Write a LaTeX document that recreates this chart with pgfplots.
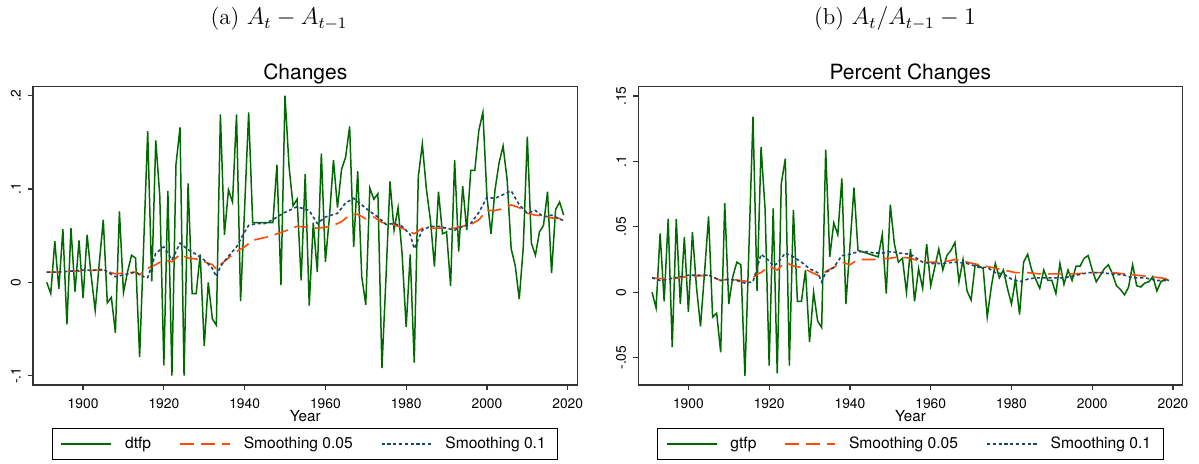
\documentclass[border=0pt]{standalone}
\usepackage{fontspec}
\usepackage{pgfplots}
\usepackage{pgfplotstable}
\pgfplotsset{compat=1.18}
\newfontfamily\heros{TeX Gyre Heros}

\definecolor{tfpgreen}{RGB}{0,105,0}
\definecolor{smorange}{RGB}{255,75,10}
\definecolor{smnavy}{RGB}{26,71,111}

% annual TFP changes: level difference and growth rate
\pgfplotstableread{
year dtfp gtfp
1891 0.000 0.000
1892 -0.012 -0.012
1893 0.044 0.045
1894 -0.007 -0.007
1895 0.057 0.056
1896 -0.045 -0.042
1897 0.058 0.056
1898 -0.010 -0.009
1899 0.045 0.042
1900 -0.017 -0.015
1901 0.051 0.046
1902 0.007 0.004
1903 -0.030 -0.026
1904 0.020 0.015
1905 0.067 0.058
1906 -0.022 -0.019
1907 -0.016 -0.016
1908 -0.054 -0.046
1909 0.076 0.068
1910 -0.011 -0.009
1911 0.011 0.012
1912 0.029 0.023
1913 0.026 0.021
1914 -0.080 -0.064
1915 0.040 0.035
1916 0.162 0.134
1917 0.001 0.001
1918 0.152 0.111
1919 0.092 0.063
1920 -0.089 -0.056
1921 0.098 0.064
1922 -0.100 -0.062
1923 0.126 0.083
1924 0.166 0.102
1925 -0.100 -0.056
1926 0.106 0.063
1927 -0.012 -0.007
1928 -0.012 -0.007
1929 0.030 0.017
1930 -0.068 -0.038
1931 0.000 0.000
1932 -0.039 -0.022
1933 -0.046 -0.027
1934 0.180 0.109
1935 0.051 0.027
1936 0.099 0.053
1937 0.086 0.044
1938 0.180 0.087
1939 -0.020 -0.009
1940 0.080 0.035
1941 0.182 0.080
1942 0.064 0.032
1943 0.064 0.031
1944 0.064 0.030
1945 0.064 0.029
1946 0.064 0.028
1947 0.064 0.027
1948 0.126 0.044
1949 -0.003 -0.001
1950 0.200 0.067
1951 0.124 0.037
1952 0.082 0.023
1953 0.089 0.026
1954 0.002 0.000
1955 0.116 0.033
1956 -0.025 -0.007
1957 0.064 0.018
1958 0.011 0.003
1959 0.138 0.037
1960 0.022 0.005
1961 0.070 0.019
1962 0.131 0.033
1963 0.080 0.017
1964 0.121 0.028
1965 0.134 0.032
1966 0.167 0.038
1967 0.038 0.008
1968 0.119 0.025
1969 0.006 0.001
1970 -0.024 -0.006
1971 0.101 0.021
1972 0.089 0.020
1973 0.095 0.018
1974 -0.092 -0.019
1975 0.005 0.004
1976 0.108 0.022
1977 0.056 0.011
1978 0.080 0.017
1979 0.030 0.003
1980 -0.048 -0.009
1981 0.030 0.010
1982 -0.086 -0.017
1983 0.113 0.023
1984 0.148 0.029
1985 0.100 0.017
1986 0.067 0.010
1987 0.017 0.003
1988 0.097 0.017
1989 0.052 0.009
1990 0.054 0.009
1991 -0.004 -0.001
1992 0.131 0.022
1993 0.033 0.006
1994 0.103 0.017
1995 0.056 0.009
1996 0.120 0.020
1997 0.120 0.020
1998 0.163 0.026
1999 0.182 0.028
2000 0.092 0.017
2001 0.052 0.008
2002 0.099 0.013
2003 0.128 0.018
2004 0.146 0.021
2005 0.110 0.014
2006 0.036 0.005
2007 0.018 0.002
2008 -0.018 -0.002
2009 0.038 0.004
2010 0.156 0.021
2011 0.042 0.005
2012 0.029 0.004
2013 0.054 0.007
2014 0.061 0.008
2015 0.097 0.012
2016 0.010 0.001
2017 0.078 0.008
2018 0.086 0.010
2019 0.072 0.009
}\tfp

% smoothed level differences
\pgfplotstableread{
year s05
1891 0.011
1894 0.011
1897 0.012
1900 0.012
1903 0.013
1905 0.013
1908 0.009
1910 0.010
1913 0.011
1914 0.008
1916 0.015
1918 0.019
1920 0.024
1922 0.022
1924 0.030
1926 0.026
1928 0.025
1930 0.022
1932 0.019
1933 0.014
1934 0.019
1936 0.026
1938 0.033
1940 0.038
1942 0.045
1944 0.047
1946 0.049
1948 0.052
1950 0.055
1953 0.060
1956 0.059
1958 0.058
1960 0.059
1962 0.061
1964 0.065
1966 0.072
1968 0.073
1970 0.068
1972 0.070
1974 0.064
1976 0.063
1978 0.060
1980 0.056
1982 0.052
1984 0.058
1986 0.058
1988 0.058
1990 0.058
1992 0.058
1994 0.060
1996 0.062
1998 0.067
2000 0.077
2002 0.077
2004 0.079
2006 0.083
2008 0.080
2010 0.074
2012 0.072
2014 0.071
2016 0.069
2019 0.068
}\dsmA

\pgfplotstableread{
year s10
1891 0.011
1894 0.011
1897 0.012
1900 0.013
1903 0.013
1905 0.014
1908 0.006
1910 0.008
1913 0.011
1915 0.006
1916 0.005
1918 0.031
1920 0.038
1921 0.031
1922 0.024
1924 0.042
1926 0.035
1928 0.030
1930 0.024
1932 0.015
1933 0.006
1934 0.017
1936 0.028
1938 0.038
1940 0.054
1941 0.061
1943 0.063
1945 0.063
1947 0.067
1948 0.070
1950 0.075
1953 0.081
1956 0.077
1958 0.063
1960 0.070
1963 0.074
1965 0.085
1967 0.090
1969 0.083
1971 0.076
1973 0.070
1975 0.062
1977 0.063
1979 0.060
1981 0.051
1982 0.036
1984 0.056
1986 0.060
1988 0.060
1990 0.058
1992 0.056
1994 0.060
1996 0.063
1998 0.075
2000 0.091
2002 0.090
2004 0.094
2006 0.098
2008 0.083
2010 0.074
2012 0.077
2014 0.070
2016 0.072
2019 0.066
}\dsmB

% smoothed growth rates
\pgfplotstableread{
year s05
1891 0.011
1895 0.010
1900 0.012
1905 0.013
1908 0.009
1910 0.010
1913 0.009
1915 0.008
1917 0.014
1918 0.015
1920 0.020
1922 0.017
1924 0.023
1926 0.020
1928 0.019
1930 0.016
1932 0.013
1933 0.012
1934 0.016
1936 0.019
1938 0.023
1940 0.021
1942 0.025
1946 0.025
1950 0.026
1952 0.027
1955 0.026
1958 0.023
1960 0.023
1963 0.023
1966 0.025
1969 0.023
1972 0.021
1975 0.019
1978 0.017
1981 0.015
1984 0.015
1987 0.014
1990 0.014
1993 0.014
1996 0.014
1999 0.015
2002 0.015
2005 0.015
2008 0.014
2011 0.013
2014 0.012
2017 0.011
2019 0.010
}\gsmA

\pgfplotstableread{
year s10
1891 0.011
1893 0.009
1895 0.010
1900 0.013
1905 0.013
1908 0.009
1910 0.010
1912 0.009
1914 0.007
1916 0.008
1918 0.029
1920 0.024
1921 0.020
1922 0.022
1924 0.030
1926 0.027
1928 0.023
1930 0.018
1932 0.015
1933 0.008
1934 0.015
1936 0.019
1938 0.028
1940 0.029
1942 0.031
1944 0.031
1946 0.030
1948 0.030
1950 0.031
1952 0.030
1955 0.029
1958 0.023
1960 0.022
1963 0.022
1966 0.023
1969 0.022
1972 0.019
1974 0.019
1976 0.015
1978 0.014
1980 0.010
1982 0.008
1984 0.010
1986 0.011
1988 0.011
1990 0.011
1993 0.011
1996 0.013
1999 0.015
2002 0.015
2005 0.014
2008 0.013
2010 0.011
2013 0.011
2016 0.009
2019 0.009
}\gsmB

\pgfplotsset{
  tspanel/.style={
    scale only axis, width=272.2pt, height=149.15pt,
    xmin=1887.6, xmax=2022.4,
    xtick={1900,1920,1940,1960,1980,2000,2020},
    xticklabels={1900,1920,1940,1960,1980,2000,2020},
    tick align=outside, tick pos=left,
    major tick length=2.6pt,
    axis line style={line width=0.6pt, black!80},
    every tick/.style={black!80, line width=0.6pt},
    tick label style={font=\heros\fontsize{6.9}{8}\selectfont},
    xticklabel style={yshift=-0.6pt},
    yticklabel style={rotate=90, anchor=south, xshift=0pt},
    xlabel={Year},
    xlabel style={font=\heros\fontsize{7.6}{9}\selectfont,
      at={(axis description cs:0.5,0)}, anchor=base, yshift=-18pt},
    legend columns=3,
    legend style={at={(0.5,0)}, anchor=north, yshift=-21.5pt,
      draw=black, line width=0.5pt,
      font=\heros\fontsize{7.8}{9}\selectfont,
      inner xsep=4pt, inner ysep=2pt,
      /tikz/every odd column/.append style={column sep=4.5pt},
      /tikz/every even column/.append style={column sep=12pt}},
    legend image code/.code={\draw[#1] (0pt,0pt) -- (25pt,0pt);},
    raw/.style={tfpgreen, line width=0.75pt},
    sa/.style={smorange, line width=0.8pt, dash pattern=on 7pt off 3.5pt},
    sb/.style={smnavy, line width=0.8pt, dash pattern=on 1.6pt off 1.3pt},
  }
}

\begin{document}
\begin{tikzpicture}
\path[use as bounding box] (0pt,0pt) rectangle (599.5pt,-232pt);

\node[anchor=base, font=\fontsize{11.5}{14}\selectfont] at (139.5pt,-12.5pt) {(a) $A_t - A_{t-1}$};
\node[anchor=base, font=\fontsize{11.5}{14}\selectfont] at (447.5pt,-12.5pt) {(b) $A_t/A_{t-1} - 1$};

\node[anchor=base, font=\heros\fontsize{10.5}{12}\selectfont] at (152.65pt,-40pt) {Changes};
\node[anchor=base, font=\heros\fontsize{10.5}{12}\selectfont] at (455.15pt,-40pt) {Percent Changes};

\begin{axis}[tspanel, at={(16.5pt,-192.5pt)}, anchor=south west,
  ymin=-0.11, ymax=0.2096,
  ytick={-0.1,0,0.1,0.2}, yticklabels={-.1,0,.1,.2}]
  \addplot[raw] table[x=year, y=dtfp] {\tfp};
  \addlegendentry{dtfp}
  \addplot[sa] table[x=year, y=s05] {\dsmA};
  \addlegendentry{Smoothing 0.05}
  \addplot[sb] table[x=year, y=s10] {\dsmB};
  \addlegendentry{Smoothing 0.1}
\end{axis}

\begin{axis}[tspanel, at={(319.15pt,-192.5pt)}, anchor=south west,
  ymin=-0.0709, ymax=0.1571,
  ytick={-0.05,0,0.05,0.1,0.15}, yticklabels={-.05,0,.05,.1,.15}]
  \addplot[raw] table[x=year, y=gtfp] {\tfp};
  \addlegendentry{gtfp}
  \addplot[sa] table[x=year, y=s05] {\gsmA};
  \addlegendentry{Smoothing 0.05}
  \addplot[sb] table[x=year, y=s10] {\gsmB};
  \addlegendentry{Smoothing 0.1}
\end{axis}
\end{tikzpicture}
\end{document}
